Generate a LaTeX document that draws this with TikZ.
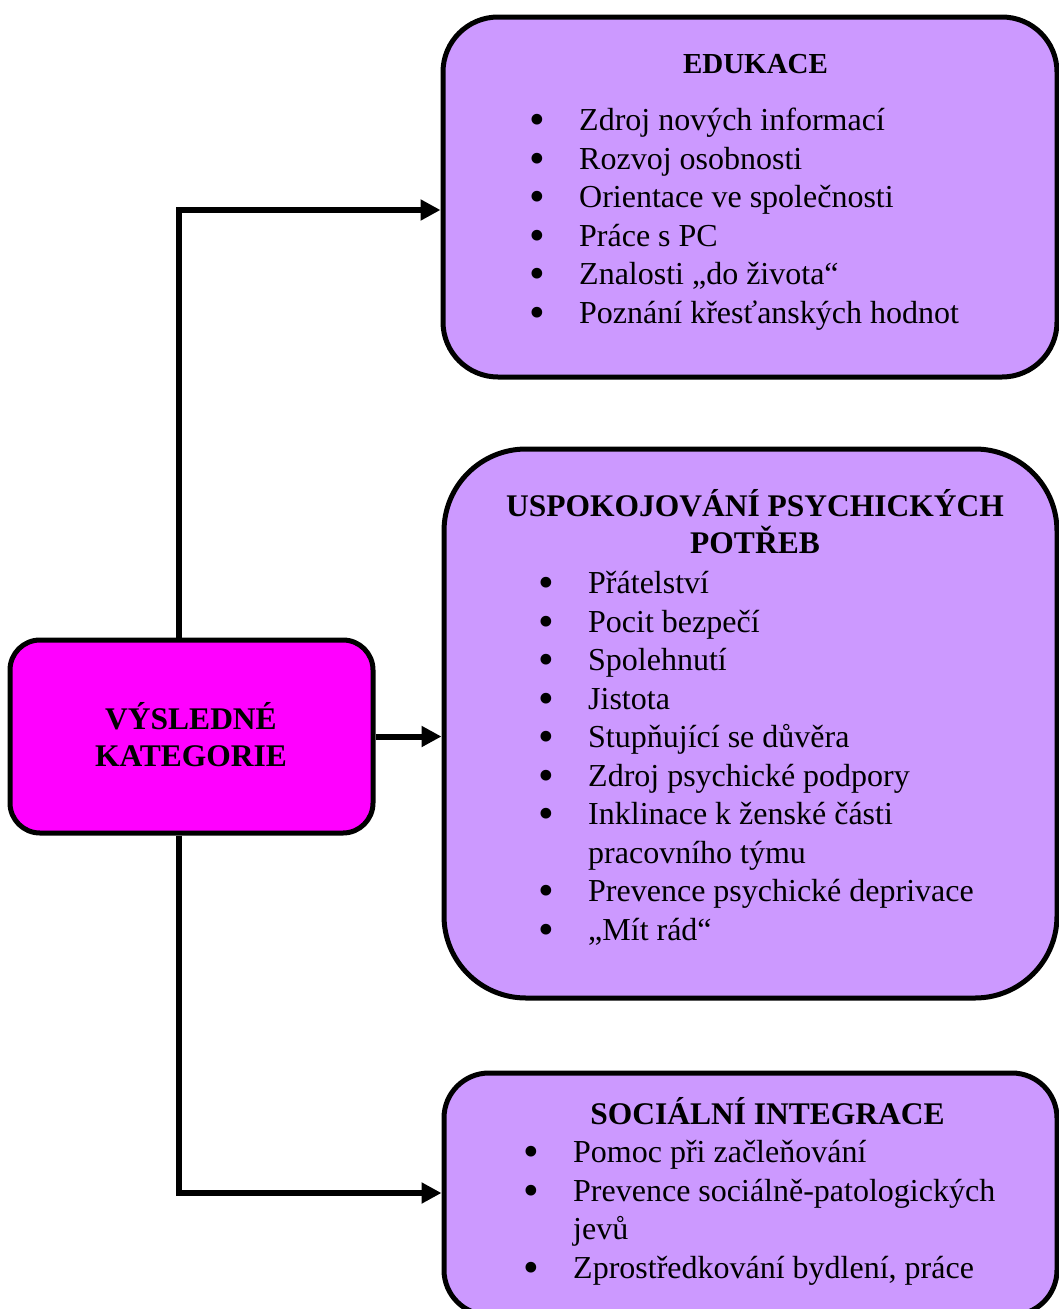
\documentclass[tikz,border=0pt]{standalone}
\usepackage{fontspec}
\setmainfont{Liberation Serif}
\usetikzlibrary{arrows.meta}
\definecolor{lilac}{HTML}{CC99FF}
\definecolor{catmagenta}{HTML}{FF00FF}
\tikzset{
  catbox/.style={draw=black, line width=5pt, inner sep=0pt},
  link/.style={line width=6pt, -{Triangle[length=20pt,width=20pt]}},
  head/.style={font=\fontsize{31.5}{36.5}\selectfont\bfseries, align=center, anchor=base},
  items/.style={font=\fontsize{32}{38.5}\selectfont, align=left, anchor=base west, inner sep=0pt},
}
% bullet + gap before the item text
\newcommand{\itm}{\makebox[47.5pt][l]{\hspace{-2.2pt}\raisebox{-4pt}{\scalebox{1.4}{•}}}}
\begin{document}
\begin{tikzpicture}[x=1pt,y=-1pt]
  \useasboundingbox (0,0) rectangle (1059,1309);
  % boxes
  \node[catbox, fill=lilac, rounded corners=55pt, minimum width=614pt, minimum height=360pt] (edu) at (750,197) {};
  \node[catbox, fill=lilac, rounded corners=82pt, minimum width=613pt, minimum height=549pt] (psy) at (750.5,723.5) {};
  \node[catbox, fill=lilac, rounded corners=45pt, minimum width=613pt, minimum height=242pt] (soc) at (750.5,1194) {};
  \node[catbox, fill=catmagenta, rounded corners=30pt, minimum width=363pt, minimum height=193pt] (cat) at (191.5,736.5) {};
  % headings (anchor = baseline of the last line)
  \node[head] (cathead) at (191,766) {VÝSLEDNÉ\\KATEGORIE};
  \node[head, font=\fontsize{29}{34}\selectfont\bfseries] (eduhead) at (755.5,73) {EDUKACE};
  \node[head] (psyhead) at (755,553) {USPOKOJOVÁNÍ PSYCHICKÝCH\\POTŘEB};
  \node[head] (sochead) at (767.5,1124) {SOCIÁLNÍ INTEGRACE};
  % lists
  \node[items] (edulist) at (531.5,323) {\itm Zdroj nových informací\\
    \itm Rozvoj osobnosti\\
    \itm Orientace ve společnosti\\
    \itm Práce s PC\\
    \itm Znalosti „do života“\\
    \itm Poznání křesťanských hodnot};
  \node[items] (psylist) at (540.5,940) {\itm Přátelství\\
    \itm Pocit bezpečí\\
    \itm Spolehnutí\\
    \itm Jistota\\
    \itm Stupňující se důvěra\\
    \itm Zdroj psychické podpory\\
    \itm Inklinace k ženské části\\
    \hspace*{47.5pt}pracovního týmu\\
    \itm Prevence psychické deprivace\\
    \itm „Mít rád“};
  \node[items] (soclist) at (525.5,1278) {\itm Pomoc při začleňování\\
    \itm Prevence sociálně-patologických\\
    \hspace*{47.5pt}jevů\\
    \itm Zprostředkování bydlení, práce};
  % connectors
  \coordinate (top) at (179,210);
  \coordinate (bot) at (179,1193);
  \draw[link] (cat.north -| top) -- (top) -- (top -| edu.west);
  \draw[link] (cat.east) -- (cat.east -| psy.west);
  \draw[link] (cat.south -| bot) -- (bot) -- (bot -| soc.west);
\end{tikzpicture}
\end{document}
